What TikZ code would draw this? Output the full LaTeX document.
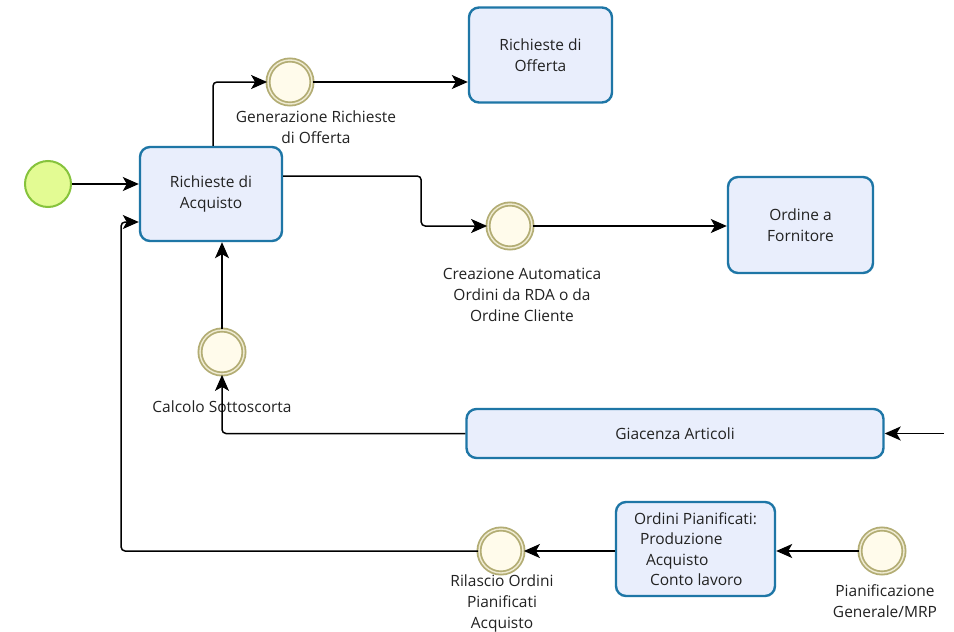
\documentclass[tikz,border=0pt]{standalone}
\usepackage{fontspec}
\setmainfont{Open Sans}
\usetikzlibrary{arrows.meta}
\definecolor{boxborder}{HTML}{1E76A6}
\definecolor{boxfill}{HTML}{E9EEFC}
\definecolor{evborder}{HTML}{B3AD74}
\definecolor{evgap}{HTML}{EFEBD2}
\definecolor{evfill}{HTML}{FFFBEB}
\definecolor{stborder}{HTML}{86C33C}
\definecolor{stfill}{HTML}{E3FB93}
\definecolor{txt}{HTML}{222222}
\tikzset{
  task/.style={draw=boxborder, fill=boxfill, line width=2.4pt, rounded corners=10pt,
    text=txt, align=center, inner sep=0pt, font=\fontsize{15.5}{20.5}\selectfont},
  event/.style={circle, draw=evborder, fill=evfill, line width=1.8pt, double=evgap,
    double distance=1.4pt, minimum size=44pt, inner sep=0pt},
  startev/.style={circle, draw=stborder, fill=stfill, line width=2pt, minimum size=46pt, inner sep=0pt},
  lbl/.style={text=txt, align=center, inner sep=0pt, font=\fontsize{15.5}{21}\selectfont},
  conn/.style={line width=1.5pt, draw=black, rounded corners=4pt,
    -{Stealth[length=16pt,width=14pt,inset=4pt]}},
}
\begin{document}
\begin{tikzpicture}[x=1pt,y=-1pt]
\useasboundingbox[fill=white] (0,0) rectangle (954,632);
% nodes
\node[startev] (s) at (48,184) {};
\node[task, minimum width=142pt, minimum height=94pt] (rda) at (211,194) {Richieste di\\Acquisto};
\node[event] (gen) at (290,82) {};
\node[task, minimum width=143pt, minimum height=95pt] (rdo) at (540.5,55) {Richieste di\\Offerta};
\node[event] (cre) at (510,226) {};
\node[task, minimum width=145pt, minimum height=96pt] (ord) at (800.5,225) {Ordine a\\Fornitore};
\node[event] (cal) at (222,352) {};
\node[task, minimum width=417pt, minimum height=49pt] (gia) at (675,433.5) {Giacenza Articoli};
\node[task, minimum width=159pt, minimum height=94pt, align=left] (op) at (695.5,549)
  {Ordini Pianificati:\\\hspace*{6pt}Produzione\\\hspace*{12pt}Acquisto\\\hspace*{16pt}Conto lavoro};
\node[event] (pia) at (882,551) {};
\node[event] (ril) at (501,551) {};
\coordinate (in) at (944,433.5);
% labels
\node[lbl] (lgen) at (316,127) {Generazione Richieste\\di Offerta};
\node[lbl] (lcre) at (522,295) {Creazione Automatica\\Ordini da RDA o da\\Ordine Cliente};
\node[lbl] (lcal) at (222,407) {Calcolo Sottoscorta};
\node[lbl] (lril) at (502,603) {Rilascio Ordini\\Pianificati\\Acquisto};
\node[lbl] (lpia) at (885,601) {Pianificazione\\Generale/MRP};
% connectors
\draw[conn] (s.east) -- (s -| rda.west);
\draw[conn] ([xshift=2pt]rda.north) |- (gen.west);
\draw[conn] (gen.east) -- (gen -| rdo.west);
\draw[conn] ([yshift=18pt]rda.east) -- ++(138,0) |- (cre.west);
\draw[conn] (cre.east) -- (cre -| ord.west);
\draw[conn] (cal.north) -- (cal |- rda.south);
\draw[conn] (gia.west) -| (cal.south);
\draw[conn] (in) -- (gia.east);
\draw[conn] (pia.west) -- (pia -| op.east);
\draw[conn] (op.west |- ril) -- (ril.east);
\draw[conn] (ril.west) -- ++(-357,0) |- ([yshift=-28pt]rda.west);
\end{tikzpicture}
\end{document}
